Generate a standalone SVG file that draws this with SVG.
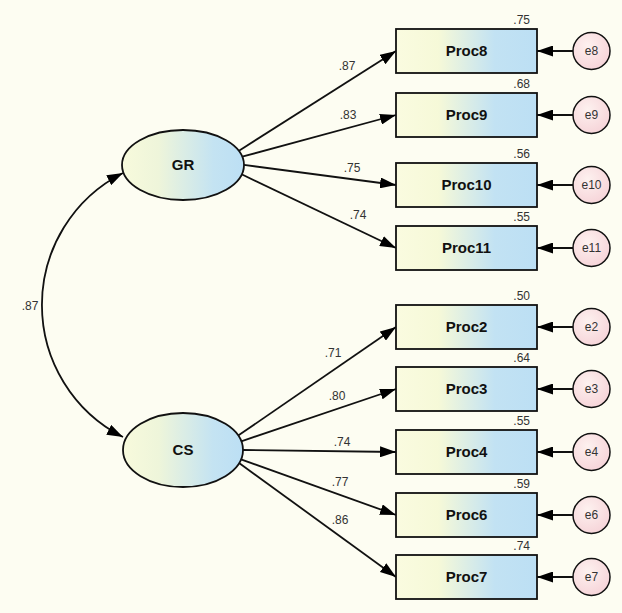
<svg xmlns="http://www.w3.org/2000/svg" width="622" height="613" viewBox="0 0 622 613">
<defs>
<linearGradient id="gBox" x1="0" y1="0" x2="1" y2="0">
<stop offset="0" stop-color="#fafbe0"/>
<stop offset="0.3" stop-color="#f6f9d8"/>
<stop offset="0.7" stop-color="#c2e2f3"/>
<stop offset="1" stop-color="#bcdff4"/>
</linearGradient>
<linearGradient id="gEll" x1="0" y1="0" x2="1" y2="0">
<stop offset="0" stop-color="#f8fadc"/>
<stop offset="0.3" stop-color="#eef5da"/>
<stop offset="0.75" stop-color="#c4e3f2"/>
<stop offset="1" stop-color="#bcdff4"/>
</linearGradient>
<radialGradient id="gErr" cx="0.4" cy="0.35" r="0.7">
<stop offset="0" stop-color="#fdf1ef"/>
<stop offset="1" stop-color="#f6d3d8"/>
</radialGradient>
<marker id="ah" viewBox="0 0 16 11" refX="16" refY="5.5" markerWidth="16" markerHeight="11" markerUnits="userSpaceOnUse" orient="auto-start-reverse">
<path d="M0,0 L16,5.5 L0,11 z" fill="#000"/>
</marker>
</defs>
<style>
.box{fill:url(#gBox);stroke:#111;stroke-width:1.8}
.ell{fill:url(#gEll);stroke:#111;stroke-width:1.8}
.err{fill:url(#gErr);stroke:#111;stroke-width:1.5}
.bl{font-family:"Liberation Sans",Arial,sans-serif;font-size:15px;font-weight:bold;fill:#111;text-anchor:middle}
.el{font-family:"Liberation Sans",Arial,sans-serif;font-size:12px;fill:#333;text-anchor:middle}
.num{font-family:"Liberation Sans",Arial,sans-serif;font-size:12px;fill:#333;text-anchor:middle}
.r2{font-family:"Liberation Sans",Arial,sans-serif;font-size:12px;fill:#333;text-anchor:end}
.ln{fill:none;stroke:#111;stroke-width:1.8;marker-end:url(#ah)}
.cov{fill:none;stroke:#111;stroke-width:1.8;marker-start:url(#ah);marker-end:url(#ah)}
</style>
<rect x="0" y="0" width="622" height="613" fill="#fdfdf2"/>

<g id="connectors">
<path class="cov" d="M123,173 A148,148 0 0 0 123,437"/>
<path class="ln" d="M239,150.7 L396,51"/>
<path class="ln" d="M242.2,156.7 L396,115"/>
<path class="ln" d="M244,164.9 L396,185"/>
<path class="ln" d="M241.6,174.3 L396,248"/>
<path class="ln" d="M238.2,435.6 L396,327"/>
<path class="ln" d="M241.2,441.3 L396,389"/>
<path class="ln" d="M243,450 L396,452"/>
<path class="ln" d="M241,459.3 L396,515"/>
<path class="ln" d="M239.1,463 L396,577"/>
<path class="ln" d="M573,51 L537,51"/>
<path class="ln" d="M573,115 L537,115"/>
<path class="ln" d="M573,185 L537,185"/>
<path class="ln" d="M573,248 L537,248"/>
<path class="ln" d="M573,327 L537,327"/>
<path class="ln" d="M573,389 L537,389"/>
<path class="ln" d="M573,452 L537,452"/>
<path class="ln" d="M573,515 L537,515"/>
<path class="ln" d="M573,577 L537,577"/>
<text class="num" x="30" y="310">.87</text>
<text class="num" x="347" y="70">.87</text>
<text class="num" x="348" y="119">.83</text>
<text class="num" x="352" y="172">.75</text>
<text class="num" x="358" y="219">.74</text>
<text class="num" x="333" y="357">.71</text>
<text class="num" x="337" y="400">.80</text>
<text class="num" x="342" y="446">.74</text>
<text class="num" x="340" y="486">.77</text>
<text class="num" x="340" y="524">.86</text>
</g>

<g id="GR"><ellipse class="ell" cx="183" cy="165" rx="61" ry="35"/><text class="bl" x="183" y="170">GR</text></g>
<g id="CS"><ellipse class="ell" cx="183" cy="450" rx="60" ry="37"/><text class="bl" x="183" y="455">CS</text></g>

<g id="Proc8"><rect class="box" x="396" y="29" width="141" height="44"/><text class="bl" x="466.5" y="56">Proc8</text><text class="r2" x="530" y="23.5">.75</text></g>
<g id="Proc9"><rect class="box" x="396" y="93" width="141" height="44"/><text class="bl" x="466.5" y="120">Proc9</text><text class="r2" x="530" y="87.5">.68</text></g>
<g id="Proc10"><rect class="box" x="396" y="163" width="141" height="44"/><text class="bl" x="466.5" y="190">Proc10</text><text class="r2" x="530" y="157.5">.56</text></g>
<g id="Proc11"><rect class="box" x="396" y="226" width="141" height="44"/><text class="bl" x="466.5" y="253">Proc11</text><text class="r2" x="530" y="220.5">.55</text></g>
<g id="Proc2"><rect class="box" x="396" y="305" width="141" height="44"/><text class="bl" x="466.5" y="332">Proc2</text><text class="r2" x="530" y="299.5">.50</text></g>
<g id="Proc3"><rect class="box" x="396" y="367" width="141" height="44"/><text class="bl" x="466.5" y="394">Proc3</text><text class="r2" x="530" y="361.5">.64</text></g>
<g id="Proc4"><rect class="box" x="396" y="430" width="141" height="44"/><text class="bl" x="466.5" y="457">Proc4</text><text class="r2" x="530" y="424.5">.55</text></g>
<g id="Proc6"><rect class="box" x="396" y="493" width="141" height="44"/><text class="bl" x="466.5" y="520">Proc6</text><text class="r2" x="530" y="487.5">.59</text></g>
<g id="Proc7"><rect class="box" x="396" y="555" width="141" height="44"/><text class="bl" x="466.5" y="582">Proc7</text><text class="r2" x="530" y="549.5">.74</text></g>

<g id="e8"><circle class="err" cx="591.5" cy="51" r="18.5"/><text class="el" x="591.5" y="55">e8</text></g>
<g id="e9"><circle class="err" cx="591.5" cy="115" r="18.5"/><text class="el" x="591.5" y="119">e9</text></g>
<g id="e10"><circle class="err" cx="591.5" cy="185" r="18.5"/><text class="el" x="591.5" y="189">e10</text></g>
<g id="e11"><circle class="err" cx="591.5" cy="248" r="18.5"/><text class="el" x="591.5" y="252">e11</text></g>
<g id="e2"><circle class="err" cx="591.5" cy="327" r="18.5"/><text class="el" x="591.5" y="331">e2</text></g>
<g id="e3"><circle class="err" cx="591.5" cy="389" r="18.5"/><text class="el" x="591.5" y="393">e3</text></g>
<g id="e4"><circle class="err" cx="591.5" cy="452" r="18.5"/><text class="el" x="591.5" y="456">e4</text></g>
<g id="e6"><circle class="err" cx="591.5" cy="515" r="18.5"/><text class="el" x="591.5" y="519">e6</text></g>
<g id="e7"><circle class="err" cx="591.5" cy="577" r="18.5"/><text class="el" x="591.5" y="581">e7</text></g>
</svg>
